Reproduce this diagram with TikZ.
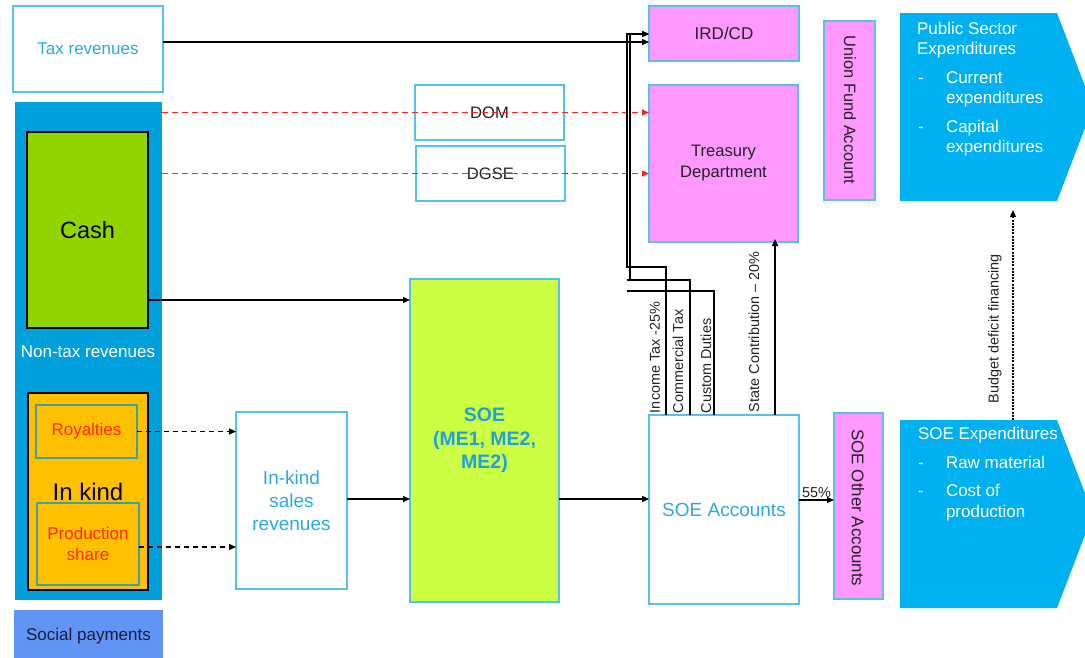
\documentclass[tikz,border=0pt]{standalone}
\usepackage{fontspec}
\setmainfont{Liberation Sans}
\usetikzlibrary{arrows.meta}
\definecolor{lbtext}{HTML}{2AAAE2}
\definecolor{lbborder}{HTML}{55C1EC}
\definecolor{ntblue}{HTML}{00A0DC}
\definecolor{pentblue}{HTML}{00B0F0}
\definecolor{cashgreen}{HTML}{92D400}
\definecolor{kindorange}{HTML}{FFC000}
\definecolor{tealb}{HTML}{3E9FA8}
\definecolor{redtext}{HTML}{FF2A00}
\definecolor{socblue}{HTML}{6195F5}
\definecolor{soctext}{HTML}{1B1B3B}
\definecolor{pinkf}{HTML}{FF99FF}
\definecolor{limef}{HTML}{CCFF44}
\definecolor{soetext}{HTML}{1EA0DC}
\definecolor{darktext}{HTML}{222222}
\definecolor{redline}{HTML}{FF2020}
\begin{document}
\begin{tikzpicture}[x=1pt,y=-1pt,
  every node/.style={inner sep=0pt, outer sep=0pt, font=\fontsize{17}{20}\selectfont},
  box/.style={draw=lbborder, line width=1.5pt, align=center},
  pinkbox/.style={box, fill=pinkf, text=darktext},
  blackbox/.style={draw=black, line width=1.3pt},
  tealbox/.style={draw=tealb, line width=1.3pt, fill=kindorange, text=redtext, align=center},
  arr/.style={draw=black, line width=1.4pt, -{Triangle[length=7pt,width=6pt]}},
  thin/.style={draw=black, line width=1.1pt},
  tarr/.style={thin, -{Triangle[length=7pt,width=6pt]}},
  rdash/.style={draw=redline, line width=1.5pt, dash pattern=on 6pt off 4pt, -{Triangle[length=7pt,width=6pt]}},
  kdash/.style={draw=black, line width=1.4pt, dash pattern=on 5pt off 4pt, -{Triangle[length=7pt,width=6pt]}},
  bdash/.style={draw=black, line width=1.3pt, dash pattern=on 2pt off 1.2pt, -{Triangle[length=7pt,width=6pt]}},
  vlab/.style={rotate=90, anchor=west, text=darktext, font=\fontsize{14.4}{17}\selectfont},
  wtext/.style={anchor=west, text=white, text height=12pt, text depth=0pt}
]
\useasboundingbox (0,0) rectangle (1085,657);

% left column
\node[box, fill=white, text=lbtext, minimum width=150, minimum height=86] (taxrev) at (88,49) {Tax revenues};
\node[fill=ntblue, minimum width=147, minimum height=498] (nontax) at (88.5,351) {};
\node[text=white] (ntlabel) at (88,352) {Non-tax revenues};
\node[blackbox, fill=cashgreen, minimum width=121, minimum height=196, font=\fontsize{23.5}{28}\selectfont] (cash) at (87.5,230) {Cash};
\node[blackbox, fill=kindorange, minimum width=120, minimum height=197, font=\fontsize{24}{28}\selectfont] (inkind) at (88,491.5) {In kind};
\node[tealbox, minimum width=101, minimum height=53] (royal) at (86.5,431.5) {Royalties};
\node[tealbox, minimum width=102, minimum height=82, font=\fontsize{17}{21}\selectfont] (prodsh) at (88,544) {Production\\share};
\node[fill=socblue, text=soctext, minimum width=149, minimum height=52] (social) at (88.5,636) {Social payments};

% middle
\node[box, fill=white, text=lbtext, minimum width=111, minimum height=177, font=\fontsize{19}{23}\selectfont] (iks) at (291.5,500.5) {In-kind\\sales\\revenues};
\node[box, fill=limef, text=soetext, minimum width=149, minimum height=323, font=\fontsize{19.5}{23.5}\selectfont\bfseries] (soe) at (484.5,440.5) {SOE\\(ME1, ME2,\\ME2)};
\node[box, fill=white, text=darktext, minimum width=149, minimum height=55, font=\fontsize{16.6}{20}\selectfont] (dom) at (489.5,112.5) {DOM};
\node[box, fill=white, text=darktext, minimum width=149, minimum height=55, font=\fontsize{16.6}{20}\selectfont] (dgse) at (490.5,173.5) {DGSE};

% right-middle
\node[pinkbox, minimum width=150, minimum height=55] (ird) at (724,33.5) {IRD/CD};
\node[pinkbox, minimum width=149, minimum height=157, font=\fontsize{16.6}{21}\selectfont] (treas) at (723.5,163.5) {Treasury\\Department};
\node[pinkbox, minimum width=51, minimum height=179] (ufa) at (849.5,110.5) {};
\node[rotate=-90, text=darktext, font=\fontsize{16.4}{20}\selectfont] (ufalab) at (850,110) {Union Fund Account};
\node[box, fill=white, text=lbtext, minimum width=150, minimum height=189, font=\fontsize{19}{23}\selectfont] (soeacc) at (724,509.5) {SOE Accounts};
\node[pinkbox, minimum width=49, minimum height=186] (soeoth) at (858.5,506) {};
\node[rotate=-90, text=darktext, font=\fontsize{16.9}{20}\selectfont] (soeothlab) at (858,508) {SOE Other Accounts};

% expenditure pentagons
\fill[pentblue] (900,13) -- (1057,13) -- (1093,107) -- (1057,201) -- (900,201) -- cycle;
\node[minimum width=157, minimum height=188] (pse) at (978.5,107) {};
\node[wtext] (pse1) at (917,28) {Public Sector};
\node[wtext] (pse2) at (917,48) {Expenditures};
\node[wtext] (psd1) at (918,77) {-};
\node[wtext] (pse3) at (946,77) {Current};
\node[wtext] (pse4) at (946,97) {expenditures};
\node[wtext] (psd2) at (918,126) {-};
\node[wtext] (pse5) at (946,126) {Capital};
\node[wtext] (pse6) at (946,146) {expenditures};

\fill[pentblue] (900,420) -- (1057,420) -- (1093,514) -- (1057,608) -- (900,608) -- cycle;
\node[minimum width=157, minimum height=188] (soeexp) at (978.5,514) {};
\node[wtext] (se1) at (918,433) {SOE Expenditures};
\node[wtext] (sed1) at (918,462) {-};
\node[wtext] (se2) at (946,462) {Raw material};
\node[wtext] (sed2) at (918,490) {-};
\node[wtext] (se3) at (946,490) {Cost of};
\node[wtext] (se4) at (946,511) {production};

% helper coordinates
\coordinate (ty) at (0,42);
\coordinate (y34) at (0,34);
\coordinate (y300) at (0,300);
\coordinate (y547) at (0,547);
\coordinate (y499) at (0,499);
\coordinate (y500) at (0,500);
\coordinate (x666) at (666,0);
\coordinate (x690) at (690,0);
\coordinate (x714) at (714,0);
\coordinate (x775) at (775,0);
\coordinate (x1013) at (1013,0);
\coordinate (j1) at (627,267);
\coordinate (j2) at (630,280);
\coordinate (j2b) at (627,280);
\coordinate (j3) at (627,291);

% connectors
\draw[arr] (taxrev.east |- ty) -- (ird.west |- ty);
\draw[rdash] (nontax.east |- dom) -- (treas.west |- dom);
\draw[rdash] (nontax.east |- dgse) -- (treas.west |- dgse);
\draw[arr] (cash.east |- y300) -- (soe.west |- y300);
\draw[kdash] (royal.east) -- (iks.west |- royal.east);
\draw[kdash] (prodsh.east |- y547) -- (iks.west |- y547);
\draw[arr] (iks.east |- y499) -- (soe.west |- y499);
\draw[arr] (soe.east |- y499) -- (soeacc.west |- y499);
\draw[arr] (soeacc.east |- y500) -- node[above=2pt, text=darktext, font=\fontsize{14.4}{17}\selectfont] (p55) {55\%} (soeoth.west |- y500);
\draw[arr] (soeacc.north -| x775) -- ([yshift=3pt]treas.south -| x775);
\draw[bdash, shorten >=9pt] (soeexp.north -| x1013) -- (pse.south -| x1013);

\draw[tarr] (soeacc.north -| x666) |- (j1) |- (ird.west |- y34);
\draw[tarr] (soeacc.north -| x690) |- (j2) |- (ird.west |- y34);
\draw[thin] (j2) -- (j2b);
\draw[thin] (soeacc.north -| x714) |- (j3);

% rotated labels
\node[vlab] (lit) at (655,413) {Income Tax -25\%};
\node[vlab] (lct) at (678,413) {Commercial Tax};
\node[vlab] (lcd) at (706,413) {Custom Duties};
\node[vlab] (lsc) at (754,412) {State Contribution – 20\%};
\node[vlab] (lbd) at (995,403) {Budget deficit financing};
\end{tikzpicture}
\end{document}
